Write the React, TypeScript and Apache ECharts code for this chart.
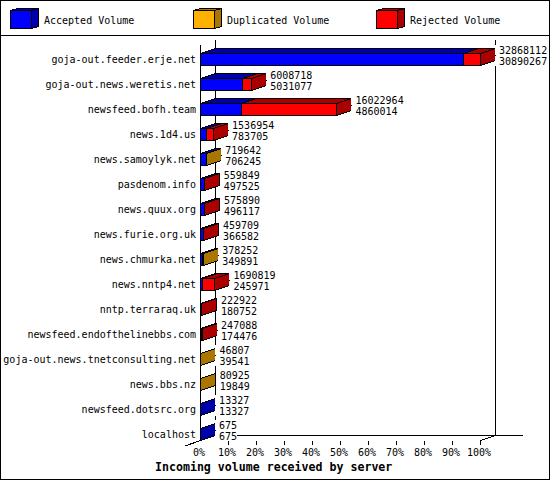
import React, { useEffect, useRef } from "react";
import * as echarts from "echarts";

const hosts = [
  "goja-out.feeder.erje.net",
  "goja-out.news.weretis.net",
  "newsfeed.bofh.team",
  "news.1d4.us",
  "news.samoylyk.net",
  "pasdenom.info",
  "news.quux.org",
  "news.furie.org.uk",
  "news.chmurka.net",
  "news.nntp4.net",
  "nntp.terraraq.uk",
  "newsfeed.endofthelinebbs.com",
  "goja-out.news.tnetconsulting.net",
  "news.bbs.nz",
  "newsfeed.dotsrc.org",
  "localhost",
];
const totalVolume = [32868112, 6008718, 16022964, 1536954, 719642, 559849, 575890, 459709, 378252, 1690819, 222922, 247088, 46807, 80925, 13327, 675];
const acceptedVolume = [30890267, 5031077, 4860014, 783705, 706245, 497525, 496117, 366582, 349891, 245971, 180752, 174476, 39541, 19849, 13327, 675];
const remainderKind = ["R", "R", "R", "R", "D", "R", "R", "R", "D", "R", "R", "R", "D", "D", "", ""];
const percentTicks = [10, 20, 30, 40, 50, 60, 70, 80, 90, 100];
const titleText = "Incoming volume received by server";

const BLUE = ["#0000ff", "#0000aa"];
const YELLOW = ["#ffb000", "#aa7600"];
const RED = ["#ff0000", "#aa0000"];
const legendItems = [
  { name: "Accepted Volume", colors: BLUE, x: 10 },
  { name: "Duplicated Volume", colors: YELLOW, x: 193 },
  { name: "Rejected Volume", colors: RED, x: 376 },
];

const FONT = '"DejaVu Sans Mono"';
const maxTotal = Math.max(...totalVolume);
const pct = (v: number) => (v / maxTotal) * 100;
const snap = (v: number) => Math.floor(v) + 0.5;
const outline = { stroke: "#000", lineWidth: 1 };

function poly(points: number[][], fill: string) {
  return { type: "polygon", shape: { points }, style: { fill, ...outline } };
}

function segment(colors: string[], withLabels: boolean) {
  return (_params: any, api: any) => {
    const i = api.value(0);
    const start = api.coord([api.value(1), i]);
    const end = api.coord([api.value(2), i]);
    const x0 = snap(start[0]);
    const x1 = snap(end[0]);
    const y0 = snap(start[1] - 6);
    const y1 = y0 + 12;
    const dx = 15;
    const dy = 5;
    const children: any[] = [
      poly([[x0, y0], [x0 + dx, y0 - dy], [x1 + dx, y0 - dy], [x1, y0]], colors[1]),
      poly([[x1, y0], [x1 + dx, y0 - dy], [x1 + dx, y1 - dy], [x1, y1]], colors[1]),
      poly([[x0, y0], [x1, y0], [x1, y1], [x0, y1]], colors[0]),
    ];
    if (withLabels) {
      const totalX = api.coord([pct(totalVolume[i]), i])[0];
      const lines = [totalVolume[i], acceptedVolume[i]];
      lines.forEach((v, k) => {
        children.push({
          type: "text",
          z2: 50,
          style: {
            text: String(v),
            x: totalX + 15,
            y: start[1] + (k === 0 ? -9 : 2),
            fill: "#000",
            font: `10px ${FONT}`,
            verticalAlign: "middle",
            backgroundColor: "#fff",
            padding: [0, 0, 0, 4],
          },
        });
      });
    }
    return { type: "group", children };
  };
}

const acceptedData = hosts.map((_, i) => [i, 0, pct(acceptedVolume[i])]);
const remainderData = (kind: string) =>
  hosts
    .map((_, i) => [i, pct(acceptedVolume[i]), pct(totalVolume[i])])
    .filter((row) => remainderKind[row[0]] === kind);

function hline(x1: number, y1: number, x2: number, y2: number) {
  return {
    type: "line",
    silent: true,
    shape: { x1, y1, x2, y2 },
    style: { stroke: "#000", lineWidth: 1 },
  };
}

function legendGraphics() {
  const out: any[] = [];
  legendItems.forEach((item) => {
    const x = item.x + 0.5;
    const y = 10.5;
    const w = 21;
    const h = 18;
    const dx = 7;
    const dy = 2;
    out.push(poly([[x, y], [x + dx, y - dy], [x + w + dx, y - dy], [x + w, y]], item.colors[1]));
    out.push(poly([[x + w, y], [x + w + dx, y - dy], [x + w + dx, y + h - dy], [x + w, y + h]], item.colors[1]));
    out.push(poly([[x, y], [x + w, y], [x + w, y + h], [x, y + h]], item.colors[0]));
    out.push({
      type: "text",
      style: {
        text: item.name,
        x: item.x + 34,
        y: 20,
        fill: "#000",
        font: `10px ${FONT}`,
        verticalAlign: "middle",
      },
    });
  });
  return out;
}

export default function App() {
  const ref = useRef<HTMLDivElement>(null);
  useEffect(() => {
    const chart = echarts.init(ref.current!, undefined, { renderer: "svg" });
    chart.setOption({
      animation: false,
      backgroundColor: "#fff",
      title: {
        text: titleText,
        left: 155,
        top: 461,
        padding: 0,
        textStyle: { fontFamily: FONT, fontWeight: "bold", fontSize: 11.6, color: "#000" },
      },
      grid: { left: 200, width: 280, top: 46.5, height: 400, containLabel: false },
      xAxis: {
        type: "value",
        min: 0,
        max: 100,
        interval: 10,
        offset: -6,
        splitLine: { show: false },
        axisLine: { show: false },
        axisTick: { show: true, length: 4, customValues: percentTicks, lineStyle: { color: "#000", width: 1 } },
        axisLabel: {
          show: true,
          formatter: "{value}%",
          margin: 7,
          color: "#000",
          fontFamily: FONT,
          fontSize: 10,
          padding: [0, 2, 0, 0],
          hideOverlap: false,
        },
      },
      yAxis: {
        type: "category",
        inverse: true,
        data: hosts,
        axisLine: { show: false },
        axisTick: { show: false },
        splitLine: { show: false },
        axisLabel: { margin: 4, color: "#000", fontFamily: FONT, fontSize: 10, interval: 0 },
      },
      graphic: {
        elements: [
          { type: "rect", silent: true, shape: { x: 0.5, y: 0.5, width: 549, height: 479 }, style: { fill: "none", stroke: "#000", lineWidth: 1 } },
          hline(0, 35.5, 550, 35.5),
          hline(200.5, 45, 200.5, 441),
          hline(215.5, 40, 215.5, 436),
          hline(495.5, 40, 495.5, 436),
          hline(215, 435.5, 523, 435.5),
          hline(185, 446, 200.5, 440.5),
          hline(480.5, 440.5, 495.5, 435.5),
          ...legendGraphics(),
        ],
      },
      series: [
        { name: "Accepted Volume", type: "custom", z: 5, coordinateSystem: "cartesian2d", renderItem: segment(BLUE, false), encode: { x: 2, y: 0 }, data: acceptedData },
        { name: "Duplicated Volume", type: "custom", z: 6, coordinateSystem: "cartesian2d", renderItem: segment(YELLOW, false), encode: { x: 2, y: 0 }, data: remainderData("D") },
        { name: "Rejected Volume", type: "custom", z: 7, coordinateSystem: "cartesian2d", renderItem: segment(RED, false), encode: { x: 2, y: 0 }, data: remainderData("R") },
        { name: "Volume labels", type: "custom", z: 8, coordinateSystem: "cartesian2d", clip: false, renderItem: (p: any, api: any) => {
            const g = segment(BLUE, true)(p, api);
            return { type: "group", children: g.children.filter((c: any) => c.type === "text") };
          }, encode: { x: 2, y: 0 }, data: hosts.map((_, i) => [i, 0, pct(totalVolume[i])]) },
      ],
    });
    return () => chart.dispose();
  }, []);
  return (
    <div style={{ position: "fixed", left: 0, top: 0, width: 550, height: 480 }}>
      <style>{"svg polygon, svg line, svg path, svg rect { shape-rendering: crispEdges; }"}</style>
      <div ref={ref} style={{ width: 550, height: 480 }} />
    </div>
  );
}
